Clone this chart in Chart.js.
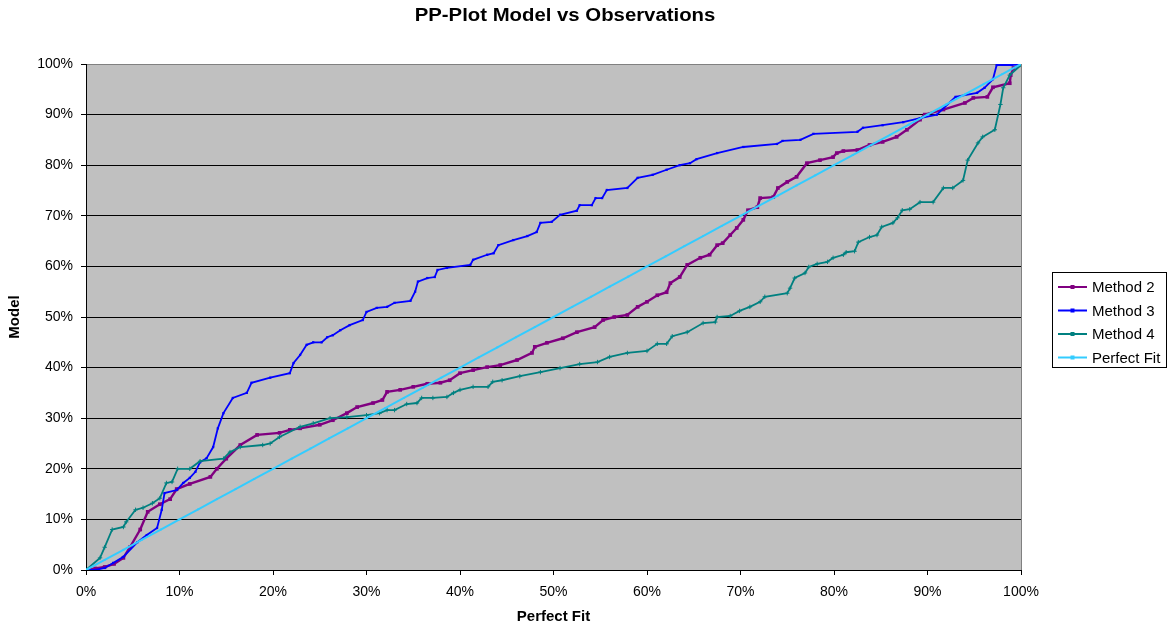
<!DOCTYPE html>
<html>
<head>
<meta charset="utf-8">
<title>PP-Plot Model vs Observations</title>
<script src="https://cdn.jsdelivr.net/npm/chart.js@4.4.1/dist/chart.umd.min.js"></script>
<style>
  html, body { margin: 0; padding: 0; background: #fff; }
  #wrap { position: relative; width: 1173px; height: 628px; }
</style>
</head>
<body>
<div id="wrap"><canvas id="ppChart"></canvas></div>
<script>
// values in percent
const method2X = [0, 1, 2, 3, 4, 4.7, 5.8, 6.6, 7.9, 9, 9.7, 11.1, 13.3, 14, 15, 16.5, 18.3, 20.7, 21.8, 22.9, 25, 26.4, 27.9, 29, 30.7, 31.7, 32.2, 33.6, 35, 36.5, 37.9, 38.9, 40, 41.4, 42.9, 44.3, 46.1, 47.7, 48, 49.3, 51, 52.5, 54.4, 55.3, 56.5, 57.9, 59, 60, 61.1, 62.1, 62.5, 63.5, 64.3, 65.7, 66.7, 67.5, 68.1, 68.9, 69.6, 70.3, 70.8, 71.8, 72.1, 73.5, 74, 75, 76, 77.1, 78.5, 79.9, 80.3, 81, 82.5, 83.8, 85.2, 86.7, 87.8, 89.2, 89.7, 91.7, 94, 94.9, 96.4, 97, 98.8, 98.9, 99.2, 100];
const method2Y = [0, 0.3, 0.6, 1.2, 2.4, 4.5, 8, 11.5, 13, 14, 16, 17, 18.4, 20, 22, 24.7, 26.7, 27.1, 27.7, 28, 28.7, 29.6, 31, 32.2, 33, 33.6, 35.2, 35.6, 36.2, 36.8, 37, 37.5, 38.9, 39.5, 40.1, 40.5, 41.5, 42.9, 44.1, 44.9, 45.8, 47, 48, 49.4, 50, 50.4, 52, 53, 54.3, 54.9, 56.7, 57.9, 60.3, 61.7, 62.3, 64.2, 64.6, 66.2, 67.6, 69.2, 71.1, 71.7, 73.5, 73.7, 75.5, 76.7, 77.7, 80.4, 81, 81.6, 82.4, 82.8, 83, 84, 84.6, 85.6, 87, 89, 90, 91, 92.3, 93.3, 93.5, 95.4, 96.2, 97.8, 99.2, 100];

const method3X = [0, 1, 2, 2.9, 4, 5.5, 6.5, 7.6, 8.1, 8.4, 9.7, 10.4, 11.1, 11.7, 12.2, 12.9, 13.6, 14.1, 14.7, 15.7, 17.2, 17.7, 19.7, 21.8, 22.2, 22.9, 23.6, 24.3, 25.2, 25.8, 26.4, 27.2, 28.2, 29.6, 30, 31.1, 32.2, 33, 34.7, 35.2, 35.5, 36.5, 37.3, 37.6, 38.6, 41.1, 41.4, 42.9, 43.6, 44.1, 45.7, 47.2, 48.2, 48.6, 49.8, 50.7, 52.5, 52.8, 54.1, 54.5, 55.2, 55.7, 57.9, 59, 60.6, 62.1, 63.5, 64.6, 65.3, 67.5, 70.3, 73.9, 74.5, 76.4, 77.8, 82.5, 83.1, 85.2, 87.4, 89.2, 91, 93, 95.3, 96.1, 97, 97.4, 99, 100];
const method3Y = [0, 0, 0.4, 1.4, 2.6, 5.5, 6.9, 8.3, 11.9, 15.2, 15.8, 17.2, 18.2, 19.4, 21.3, 22.1, 24.3, 28, 31, 34, 35, 37, 38, 38.9, 40.9, 42.5, 44.5, 45, 45, 46, 46.4, 47.4, 48.4, 49.4, 51, 51.8, 52, 52.8, 53.2, 55, 57, 57.7, 57.9, 59.3, 59.7, 60.3, 61.3, 62.3, 62.6, 64.2, 65.2, 66, 66.8, 68.6, 68.8, 70.2, 71, 72.1, 72.1, 73.5, 73.5, 75.1, 75.5, 77.5, 78.1, 79.1, 80, 80.4, 81.2, 82.4, 83.6, 84.2, 84.8, 85, 86.2, 86.6, 87.4, 87.9, 88.5, 89.3, 90, 93.5, 94.3, 95.3, 97, 99.8, 99.8, 100];

const method4X = [0, 1.5, 2, 2.8, 4, 4.3, 5.3, 6.1, 7.1, 7.9, 8.6, 9.2, 9.8, 11.1, 12.2, 14.7, 15.4, 16.5, 18.9, 19.7, 20.7, 22.9, 24.3, 26.1, 27.9, 30, 31.4, 32.2, 33, 34.3, 35.4, 35.9, 37.1, 38.6, 39.3, 40, 41.4, 43, 43.5, 44.5, 46.4, 48.6, 50.7, 52.8, 54.7, 56, 57.9, 60, 61.1, 62.1, 62.7, 64.3, 66, 67.3, 67.5, 68.9, 69.9, 71, 72.1, 72.6, 75, 75.3, 75.8, 76.9, 77.3, 78.2, 79.3, 79.9, 81, 81.3, 82.2, 82.6, 83.8, 84.6, 85.1, 86.3, 86.8, 87.3, 88.1, 89.2, 90.6, 91.7, 92.7, 93.8, 94.3, 95.4, 95.9, 97.2, 97.8, 98.1, 98.8, 100];
const method4Y = [0, 2.4, 4.5, 8, 8.5, 9.5, 11.9, 12.3, 13.2, 14.2, 17.2, 17.4, 20, 20, 21.5, 22, 23.3, 24.3, 24.7, 25, 26.3, 28.3, 29, 30, 30.2, 30.6, 31, 31.6, 31.6, 32.8, 33, 34, 34, 34.2, 35, 35.6, 36.2, 36.2, 37.2, 37.5, 38.3, 39.1, 39.9, 40.7, 41.1, 42.1, 42.9, 43.3, 44.7, 44.7, 46.2, 47, 48.8, 49, 50, 50.2, 51.2, 52, 53, 54, 54.7, 55.7, 57.7, 58.7, 59.9, 60.5, 60.9, 61.7, 62.3, 62.8, 63, 64.8, 65.8, 66.2, 67.8, 68.6, 69.6, 71.1, 71.3, 72.7, 72.7, 75.5, 75.5, 77, 81, 84.4, 85.6, 87, 92, 95.3, 97.8, 99.8];

const perfectX = [0, 2, 4, 6, 8, 10, 12, 14, 16, 18, 20, 22, 24, 26, 28, 30, 32, 34, 36, 38, 40, 42, 44, 46, 48, 50, 52, 54, 56, 58, 60, 62, 64, 66, 68, 70, 72, 74, 76, 78, 80, 82, 84, 86, 88, 90, 92, 94, 96, 98, 100];
const perfectY = [0, 2, 4, 6, 8, 10, 12, 14, 16, 18, 20, 22, 24, 26, 28, 30, 32, 34, 36, 38, 40, 42, 44, 46, 48, 50, 52, 54, 56, 58, 60, 62, 64, 66, 68, 70, 72, 74, 76, 78, 80, 82, 84, 86, 88, 90, 92, 94, 96, 98, 100];

const seriesNames = ['Method 2', 'Method 3', 'Method 4', 'Perfect Fit'];
const tickLabels = ['0%', '10%', '20%', '30%', '40%', '50%', '60%', '70%', '80%', '90%', '100%'];

const FONT = "'Liberation Sans', Arial, sans-serif";

function pts(xs, ys) {
    return xs.map((x, i) => ({ x: x, y: ys[i] }));
}
function pctTick(value) {
    return tickLabels[Math.round(value / 10)];
}

// grey plot area, white page
const plotBackground = {
    id: 'plotBackground',
    beforeDraw(chart) {
        const { ctx, chartArea: a } = chart;
        ctx.save();
        ctx.fillStyle = '#fff';
        ctx.fillRect(0, 0, chart.width, chart.height);
        ctx.fillStyle = '#c0c0c0';
        ctx.fillRect(a.left, a.top, a.right - a.left, a.bottom - a.top);
        ctx.restore();
    },
    beforeDatasetsDraw(chart) {
        const { ctx, chartArea: a } = chart;
        ctx.save();
        ctx.strokeStyle = '#808080';
        ctx.lineWidth = 1;
        ctx.beginPath();
        ctx.moveTo(Math.round(a.right) + 0.5, a.top);
        ctx.lineTo(Math.round(a.right) + 0.5, a.bottom);
        ctx.stroke();
        ctx.restore();
    }
};

// title + boxed legend on the right, like the spreadsheet original
const sheetDecor = {
    id: 'sheetDecor',
    afterDraw(chart) {
        const ctx = chart.ctx;
        ctx.save();
        ctx.fillStyle = '#000';
        ctx.font = 'bold 18px ' + FONT;
        ctx.textAlign = 'center';
        ctx.textBaseline = 'middle';
        // the original's font runs wide, stretch a little
        ctx.translate(565, 16);
        ctx.scale(1.13, 1);
        ctx.fillText('PP-Plot Model vs Observations', 0, 0);
        ctx.setTransform(1, 0, 0, 1, 0, 0);

        const bx = 1052.5, by = 272.5, bw = 114, bh = 95;
        ctx.fillStyle = '#fff';
        ctx.fillRect(bx, by, bw, bh);
        ctx.strokeStyle = '#000';
        ctx.lineWidth = 1;
        ctx.strokeRect(bx, by, bw, bh);

        ctx.font = '15px ' + FONT;
        ctx.textAlign = 'left';
        chart.data.datasets.forEach((ds, i) => {
            const y = 287 + i * 23.5;
            ctx.strokeStyle = ds.borderColor;
            ctx.lineWidth = 2;
            ctx.beginPath();
            ctx.moveTo(1058, y);
            ctx.lineTo(1087, y);
            ctx.stroke();
            ctx.fillStyle = ds.borderColor;
            ctx.fillRect(1070.5, y - 2, 4, 4);
            ctx.fillStyle = '#000';
            ctx.fillText(ds.label, 1092, y + 1);
        });
        ctx.restore();
    }
};

const ctx = document.getElementById('ppChart').getContext('2d');
new Chart(ctx, {
    type: 'line',
    data: {
        datasets: [
            {
                label: seriesNames[0],
                data: pts(method2X, method2Y),
                borderColor: '#800080',
                backgroundColor: '#800080',
                borderWidth: 2.4,
                pointStyle: 'rect',
                pointRadius: 2.6,
                pointBorderWidth: 0,
                order: 4
            },
            {
                label: seriesNames[1],
                data: pts(method3X, method3Y),
                borderColor: '#0000ff',
                backgroundColor: '#0000ff',
                borderWidth: 1.8,
                pointStyle: 'rect',
                pointRadius: 1.6,
                pointBorderWidth: 0,
                order: 3
            },
            {
                label: seriesNames[2],
                data: pts(method4X, method4Y),
                borderColor: '#008080',
                backgroundColor: '#008080',
                borderWidth: 1.8,
                pointStyle: 'cross',
                pointRadius: 2.2,
                pointBorderWidth: 1,
                order: 2
            },
            {
                label: seriesNames[3],
                data: pts(perfectX, perfectY),
                borderColor: '#33ccff',
                backgroundColor: '#33ccff',
                borderWidth: 2,
                pointStyle: 'rect',
                pointRadius: 1.3,
                pointBorderWidth: 0,
                order: 1
            }
        ]
    },
    options: {
        animation: false,
        responsive: true,
        maintainAspectRatio: false,
        layout: { padding: { top: 64, right: 152, left: 0, bottom: 0 } },
        elements: { line: { tension: 0 } },
        plugins: {
            legend: { display: false },
            tooltip: { enabled: false },
            title: { display: false }
        },
        scales: {
            x: {
                type: 'linear',
                min: 0,
                max: 100,
                afterFit: (scale) => { scale.height = 58; },
                ticks: {
                    stepSize: 10,
                    autoSkip: false,
                    maxRotation: 0,
                    padding: 9,
                    color: '#000',
                    font: { family: FONT, size: 14 },
                    callback: pctTick
                },
                grid: { drawOnChartArea: false, drawTicks: true, tickLength: 5, color: '#000' },
                border: { display: true, color: '#000', width: 1 },
                title: {
                    display: true,
                    text: 'Perfect Fit',
                    color: '#000',
                    font: { family: FONT, size: 15, weight: 'bold' },
                    padding: { top: 0, bottom: 2 }
                }
            },
            y: {
                min: 0,
                max: 100,
                afterFit: (scale) => { scale.width = 86; },
                ticks: {
                    stepSize: 10,
                    autoSkip: false,
                    padding: 8,
                    color: '#000',
                    font: { family: FONT, size: 14 },
                    callback: pctTick
                },
                grid: {
                    drawTicks: true,
                    tickLength: 5,
                    tickColor: '#000',
                    color: (c) => (c.tick && c.tick.value === 100 ? '#808080' : '#000')
                },
                border: { display: true, color: '#000', width: 1 },
                title: {
                    display: true,
                    text: 'Model',
                    color: '#000',
                    font: { family: FONT, size: 15, weight: 'bold' },
                    padding: { top: 6, bottom: 0 }
                }
            }
        }
    },
    plugins: [plotBackground, sheetDecor]
});
</script>
</body>
</html>
